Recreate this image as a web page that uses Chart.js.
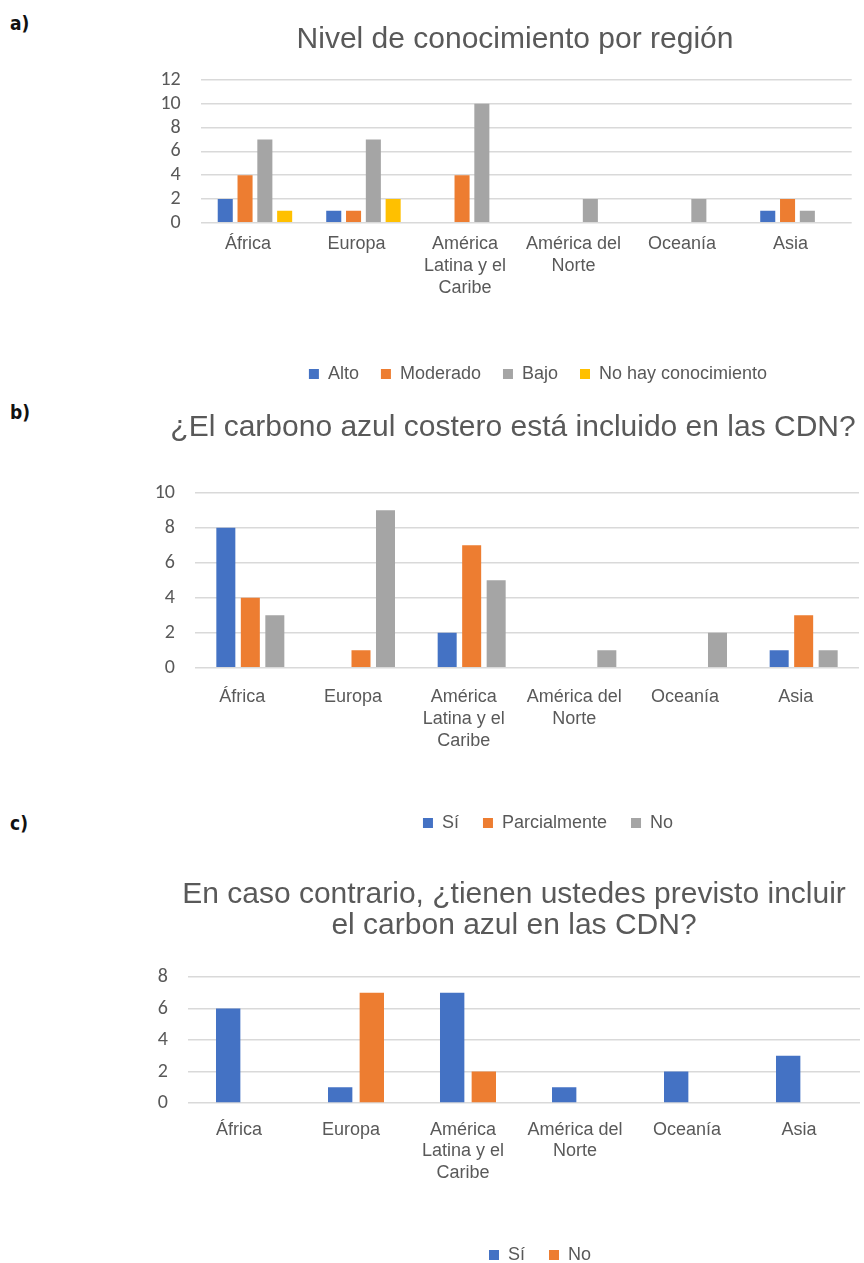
<!DOCTYPE html>
<html lang="es">
<head>
<meta charset="utf-8">
<script src="https://cdn.jsdelivr.net/npm/chart.js@4.4.1/dist/chart.umd.min.js"></script>
<style>
  html, body { margin: 0; padding: 0; background: #fff; overflow: hidden; }
  body { width: 864px; height: 1263px; position: relative; }
  canvas { position: absolute; left: 0; }
  .tag {
    position: absolute; left: 10px;
    font-family: "Liberation Sans Narrow", "DejaVu Sans Condensed", "Liberation Sans", sans-serif;
    font-stretch: condensed; font-weight: bold; font-size: 19px; line-height: 20px; color: #111;
  }
</style>
</head>
<body>
<div class="tag" style="top:13px">a)</div>
<div class="tag" style="top:402px">b)</div>
<div class="tag" style="top:813px">c)</div>
<canvas id="chartA" width="864" height="393" style="top:0px"></canvas>
<canvas id="chartB" width="864" height="447" style="top:395px"></canvas>
<canvas id="chartC" width="864" height="432" style="top:842px"></canvas>
<script>
// Regions shared by the three panels
const regions = ['África', 'Europa', ['América', 'Latina y el', 'Caribe'], ['América del', 'Norte'], 'Oceanía', 'Asia'];

// a) Nivel de conocimiento
const titleA = 'Nivel de conocimiento por región';
const alto = [2, 1, 0, 0, 0, 1];
const moderado = [4, 1, 4, 0, 0, 2];
const bajo = [7, 7, 10, 2, 2, 1];
const sinConocimiento = [1, 2, 0, 0, 0, 0];
const yTicksA = { max: 12, step: 2 };

// b) Carbono azul en las CDN
const titleB = '¿El carbono azul costero está incluido en las CDN?';
const incluidoSi = [8, 0, 2, 0, 0, 1];
const incluidoParcial = [4, 1, 7, 0, 0, 3];
const incluidoNo = [3, 9, 5, 1, 2, 1];
const yTicksB = { max: 10, step: 2 };

// c) Inclusión prevista
const titleC = ['En caso contrario, ¿tienen ustedes previsto incluir', 'el carbon azul en las CDN?'];
const previstoSi = [6, 1, 7, 1, 2, 3];
const previstoNo = [0, 7, 2, 0, 0, 0];
const yTicksC = { max: 8, step: 2 };

const BLUE = '#4472C4', ORANGE = '#ED7D31', GRAY = '#A5A5A5', GOLD = '#FFC000';
const TEXT = '#595959';

Chart.defaults.font.family = '"Liberation Sans", Arial, sans-serif';
Chart.defaults.color = TEXT;

// Places the title and legend blocks at a chosen horizontal centre
const centerBlocks = {
  id: 'centerBlocks',
  afterLayout(chart, args, opts) {
    [['titleBlock', opts.title], ['legend', opts.legend]].forEach(([key, cx]) => {
      const box = chart[key];
      if (!box || cx == null) return;
      const dx = cx - (box.left + box.right) / 2;
      box.left += dx;
      box.right += dx;
    });
  }
};

function barChart(id, title, series, yTicks, g) {
  return new Chart(document.getElementById(id), {
    type: 'bar',
    data: {
      labels: regions,
      datasets: series.map(s => ({
        label: s.label,
        data: s.data,
        backgroundColor: s.color,
        borderWidth: 0,
        categoryPercentage: g.catPct,
        barPercentage: g.barPct
      }))
    },
    options: {
      responsive: false,
      animation: false,
      devicePixelRatio: 1,
      layout: { padding: { left: 0, right: 864 - g.plotRight, top: 0, bottom: 0 } },
      plugins: {
        title: {
          display: true,
          text: title,
          color: TEXT,
          font: { size: 30, weight: 'normal', lineHeight: g.titleLine },
          padding: { top: g.titleTop, bottom: g.titleBottom }
        },
        legend: {
          position: 'bottom',
          labels: {
            color: TEXT,
            font: { size: 18 },
            boxWidth: 10,
            boxHeight: 10,
            padding: g.legendPad
          }
        },
        tooltip: { enabled: false },
        centerBlocks: { title: g.titleX, legend: g.legendX }
      },
      scales: {
        x: {
          grid: { display: false, drawTicks: false },
          border: { display: false },
          ticks: {
            color: TEXT,
            font: { size: 18, lineHeight: 1.2 },
            padding: g.labelPad,
            labelOffset: g.labelOffset,
            maxRotation: 0,
            autoSkip: false
          },
          afterFit: s => { s.height = g.xAxisHeight; }
        },
        y: {
          min: 0,
          max: yTicks.max,
          grid: { color: '#D9D9D9', lineWidth: 1.5, drawTicks: false },
          border: { display: false },
          ticks: {
            stepSize: yTicks.step,
            autoSkip: false,
            padding: 20,
            color: TEXT,
            font: { family: 'Carlito, Lato, sans-serif', size: 20 }
          },
          afterFit: s => { s.width = g.plotLeft; }
        }
      }
    },
    plugins: [centerBlocks]
  });
}

barChart('chartA', titleA, [
  { label: 'Alto', data: alto, color: BLUE },
  { label: 'Moderado', data: moderado, color: ORANGE },
  { label: 'Bajo', data: bajo, color: GRAY },
  { label: 'No hay conocimiento', data: sinConocimiento, color: GOLD }
], yTicksA, {
  plotLeft: 200.7, plotRight: 851.7, titleTop: 22, titleBottom: 22, titleLine: 1.2,
  xAxisHeight: 120.3, labelPad: 11, labelOffset: -7, legendPad: 22,
  titleX: 515, legendX: 538, catPct: 0.73, barPct: 0.76
});

barChart('chartB', titleB, [
  { label: 'Sí', data: incluidoSi, color: BLUE },
  { label: 'Parcialmente', data: incluidoParcial, color: ORANGE },
  { label: 'No', data: incluidoNo, color: GRAY }
], yTicksB, {
  plotLeft: 195, plotRight: 859, titleTop: 15, titleBottom: 46.7, titleLine: 1.2,
  xAxisHeight: 122.3, labelPad: 19, labelOffset: -8, legendPad: 24,
  titleX: 513, legendX: 548, catPct: 0.664, barPct: 0.776
});

barChart('chartC', titleC, [
  { label: 'Sí', data: previstoSi, color: BLUE },
  { label: 'No', data: previstoNo, color: ORANGE }
], yTicksC, {
  plotLeft: 188, plotRight: 860, titleTop: 37.5, titleBottom: 35.5, titleLine: 31 / 30,
  xAxisHeight: 119, labelPad: 16, labelOffset: -5, legendPad: 24,
  titleX: 514, legendX: 540, catPct: 0.565, barPct: 0.77
});
</script>
</body>
</html>
